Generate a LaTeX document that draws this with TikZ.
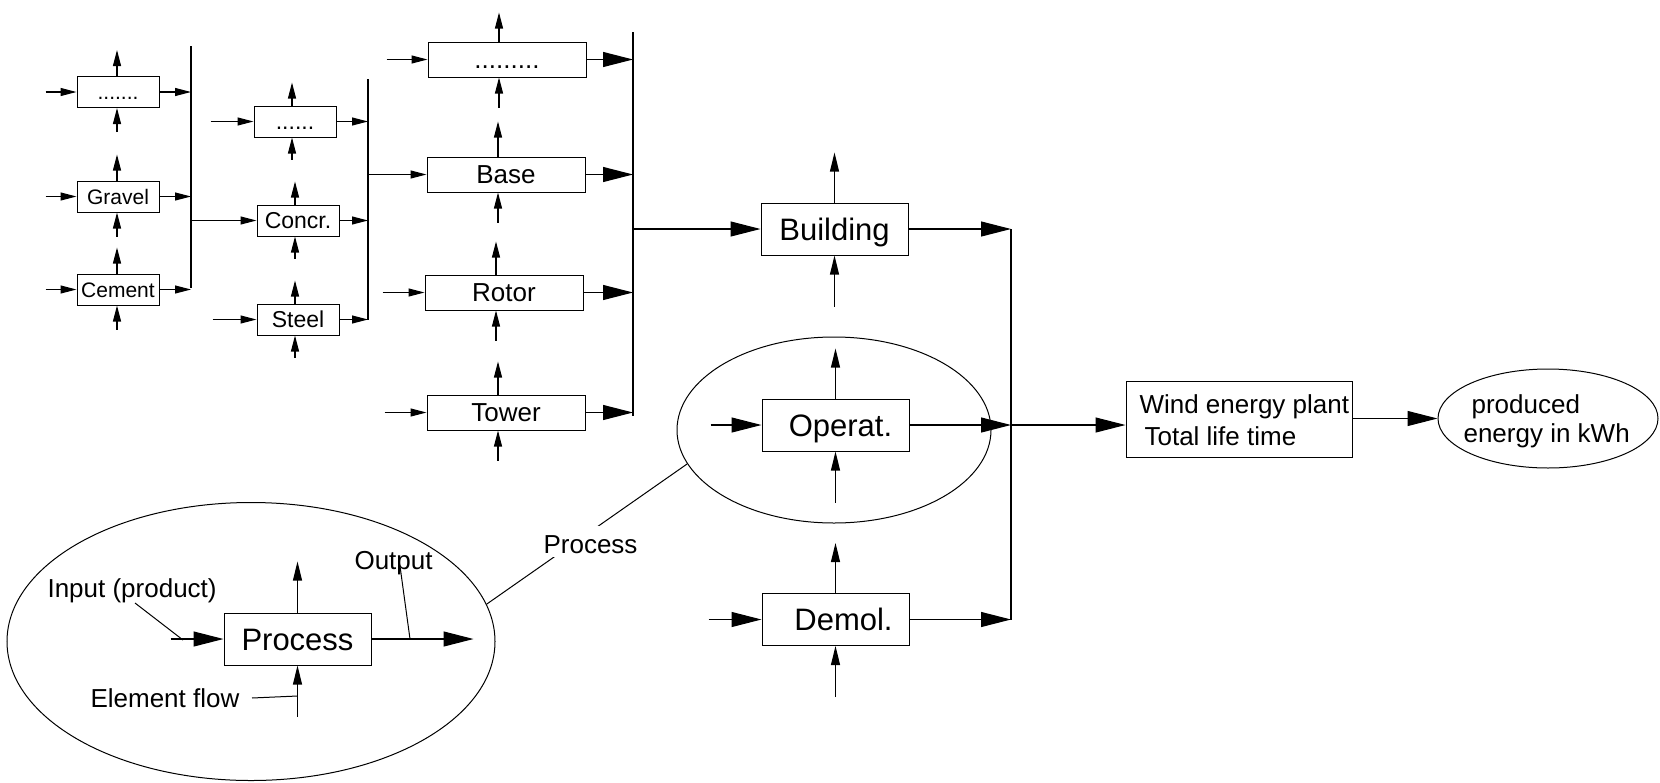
\documentclass[tikz,border=0pt]{standalone}
\usepackage{fontspec}
\setmainfont{Liberation Sans}
\usetikzlibrary{arrows.meta,shapes.geometric}
\begin{document}
\begin{tikzpicture}[x=1pt,y=-1pt,line width=1.1pt,
  b1/.style={draw,line width=1pt,minimum width=82pt,minimum height=31pt,inner sep=0pt,text height=15pt,text depth=0pt,font=\fontsize{21pt}{25pt}\selectfont},
  b2/.style={b1,text height=16.5pt,font=\fontsize{23pt}{27pt}\selectfont},
  b3/.style={b1,minimum width=158pt,minimum height=35pt,text height=18.6pt,font=\fontsize{26pt}{30pt}\selectfont},
  bb/.style={b1,minimum width=147pt,minimum height=52pt,text height=22.2pt,font=\fontsize{31pt}{36pt}\selectfont},
  ell/.style={draw,ellipse,line width=1pt,inner sep=0pt},
  lbl/.style={inner sep=0pt,font=\fontsize{26pt}{30pt}\selectfont},
  sarr/.style={-{Triangle[length=16pt,width=8pt]}},
  marr/.style={-{Triangle[length=19pt,width=9pt]}},
  larr/.style={-{Triangle[length=30pt,width=15pt]}},
]
\useasboundingbox (0,0) rectangle (1660,782);

% ---------- column 1
\node[b1] (c1a) at (118,92) {.......};
\node[b1] (gravel) at (118,196.5) {Gravel};
\node[b1] (cement) at (118,289.5) {Cement};
\coordinate (bar1t) at (191,46);
\coordinate (bar1b) at (191,288);
\draw (bar1t) -- (bar1b);
\foreach \n in {c1a,gravel,cement}{
  \draw[sarr] ([xshift=-31pt]\n.west) -- (\n.west);
  \draw[sarr] ([xshift=-1pt]\n.north) -- ++(0,-26);
  \draw[sarr] ([xshift=-1pt,yshift=-24pt]\n.south) -- ([xshift=-1pt]\n.south);
  \draw[sarr] (\n.east) -- (\n.east -| bar1t);
}

% ---------- column 2
\node[b2] (c2a) at (295,121.5) {......};
\node[b2] (concr) at (298,220.5) {Concr.};
\node[b2] (steel) at (298,319.5) {Steel};
\coordinate (bar2t) at (368,79);
\coordinate (bar2b) at (368,320);
\draw (bar2t) -- (bar2b);
\draw[sarr] (concr.west -| bar1t) -- (concr.west);
\draw[sarr] ([xshift=-43pt]c2a.west) -- (c2a.west);
\draw[sarr] ([xshift=-44pt]steel.west) -- (steel.west);
\foreach \n in {c2a,concr,steel}{
  \draw[sarr] ([xshift=-3pt]\n.north) -- ++(0,-23);
  \draw[sarr] ([xshift=-3pt,yshift=-22pt]\n.south) -- ([xshift=-3pt]\n.south);
  \draw[sarr] (\n.east) -- (\n.east -| bar2t);
}

% ---------- column 3
\node[b3] (c3a) at (507,59.5) {.........};
\node[b3] (base) at (506,174.5) {Base};
\node[b3] (rotor) at (504,292.5) {Rotor};
\node[b3] (tower) at (506,412.5) {Tower};
\coordinate (bar3t) at (633,32);
\coordinate (bar3b) at (633,416);
\draw (bar3t) -- (bar3b);
\draw[sarr] (base.west -| bar2t) -- (base.west);
\draw[sarr] ([xshift=-41pt]c3a.west) -- (c3a.west);
\draw[sarr] ([xshift=-42pt]rotor.west) -- (rotor.west);
\draw[sarr] ([xshift=-42pt]tower.west) -- (tower.west);
\foreach \n/\t in {c3a/29,base/35,rotor/33,tower/33}{
  \draw[sarr] ([xshift=-8pt]\n.north) -- ++(0,-\t);
  \draw[sarr] ([xshift=-8pt,yshift=-30pt]\n.south) -- ([xshift=-8pt]\n.south);
  \draw[larr] (\n.east) -- (\n.east -| bar3t);
}

% ---------- life cycle phases
\node[ell,minimum width=314pt,minimum height=186pt] (opell) at (834,430) {};
\node[bb] (building) at (834.5,229) {Building};
\node[bb] (operat) at (835.5,425) {\hspace*{10pt}Operat.};
\node[bb] (demol) at (835.5,619.5) {\hspace*{16pt}Demol.};
\coordinate (bar4t) at (1011,229);
\coordinate (bar4b) at (1011,620);
\draw (bar4t) -- (bar4b);
\draw[larr] (building.west -| bar3t) -- (building.west);
\draw[larr] ([xshift=-51pt]operat.west) -- (operat.west);
\draw[larr] ([xshift=-53pt]demol.west) -- (demol.west);
\foreach \n in {building,operat,demol}{
  \draw[marr] (\n.north) -- ++(0,-50);
  \draw[marr] ([yshift=-51pt]\n.south) -- (\n.south);
  \draw[larr] (\n.east) -- (\n.east -| bar4t);
}

% ---------- plant and result
\node[draw,line width=1pt,minimum width=226pt,minimum height=76pt,inner sep=0pt] (wind) at (1239,419) {};
\node[lbl,anchor=base west] (wind1) at (1139,413) {Wind energy plant};
\node[lbl,anchor=base west] (wind2) at (1144,445) {Total life time};
\draw[larr] (operat.east -| bar4t) -- (operat.east -| wind.west);
\node[ell,minimum width=220pt,minimum height=99pt] (prod) at (1548,418.5) {};
\node[lbl,anchor=base west] (prod1) at (1471,413) {produced};
\node[lbl,anchor=base west] (prod2) at (1463,442) {energy in kWh};
\draw[larr] (prod.west -| wind.east) -- (prod.west);

% ---------- legend ellipse
\node[ell,minimum width=488pt,minimum height=278pt] (bigell) at (251,641.5) {};
\node[bb] (proc) at (297.5,639) {Process};
\draw[larr] ([xshift=-53pt]proc.west) -- (proc.west);
\draw[larr] (proc.east) -- ([xshift=102pt]proc.east);
\draw[marr] (proc.north) -- ++(0,-51);
\draw[marr] ([yshift=-51pt]proc.south) -- (proc.south);

\node[lbl,anchor=base west] (inlbl) at (47,597) {Input (product)};
\node[lbl,anchor=base west] (ellbl) at (90,707) {Element flow};
\node[lbl,anchor=base west] (outlbl) at (354,569) {Output};
\coordinate (inA) at (135,603);
\coordinate (inB) at (183,640);
\coordinate (elA) at (252,698);
\coordinate (elB) at (297.5,696);
\coordinate (outA) at (400,566);
\coordinate (outB) at (410,639);
\draw[line width=1pt] (inA) -- (inB);
\draw[line width=1pt] (elA) -- (elB);
\draw[line width=1pt] (outA) -- (outB);

% ---------- callout
\draw[line width=1pt] (opell.193.7) -- (bigell.9.5);
\node[lbl,fill=white,text height=27pt,text depth=4pt,anchor=base] (proclbl) at (590.5,553) {Process};
\end{tikzpicture}
\end{document}
